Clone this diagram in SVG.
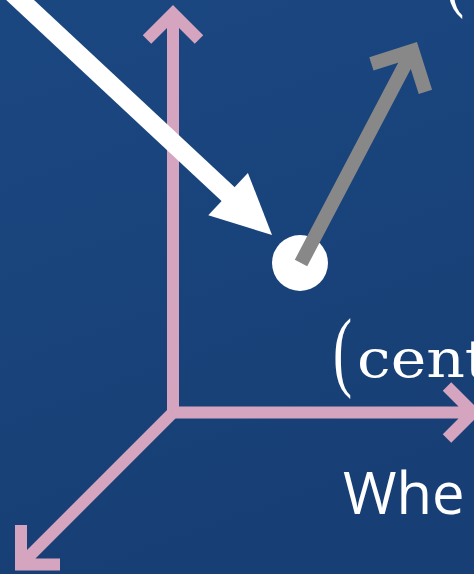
<svg xmlns="http://www.w3.org/2000/svg" width="474" height="574" viewBox="0 0 474 574">
  <defs>
    <linearGradient id="bg" x1="0" y1="0" x2="0.3" y2="1">
      <stop offset="0" stop-color="#1b4781"/>
      <stop offset="1" stop-color="#173f75"/>
    </linearGradient>
    <style>
      .axis { fill: none; stroke: #d5a5bf; stroke-width: 12; stroke-linejoin: miter; stroke-miterlimit: 10; stroke-linecap: butt; }
      .vel { fill: none; stroke: #888888; stroke-width: 14; stroke-linejoin: miter; stroke-miterlimit: 10; stroke-linecap: butt; }
      .force { fill: none; stroke: #ffffff; stroke-width: 19; stroke-linecap: butt; }
      .head { fill: #ffffff; stroke: none; }
      .paren { font-family: "Liberation Serif", "DejaVu Serif", serif; font-size: 88px; fill: #ffffff; }
      .math { font-family: "DejaVu Serif", "Liberation Serif", serif; fill: #ffffff; }
      .label { font-family: "Open Sans", "Noto Sans", sans-serif; fill: #ffffff; }
    </style>
  </defs>
  <rect x="0" y="0" width="474" height="574" fill="url(#bg)"/>
  <g id="connectors">
    <path id="axis-y" class="axis" d="M173,412.5 V13.5 M147,39.5 L173,13.5 L199,39.5"/>
    <path id="axis-x" class="axis" d="M173,412.5 H473 M447,386.5 L473,412.5 L447,438.5"/>
    <path id="axis-z" class="axis" d="M173,412.5 L21,564.5 M21,525 L21,564.5 L60,564.5"/>
    <g id="force-arrow">
      <path class="force" d="M-20.4,-37.8 L229.6,195.5"/>
      <polygon class="head" points="272,235 208.3,215.3 247.9,172.9"/>
    </g>
  </g>
  <g id="node-point">
    <circle cx="300" cy="263" r="28" fill="#ffffff"/>
  </g>
  <g id="velocity-arrow">
    <path class="vel" d="M301,263 L412.4,50.8 M371.4,63.8 L412.4,50.8 L425.4,91.8"/>
  </g>
  <g id="label-top">
    <text class="paren" transform="translate(445,-0.5) scale(0.65,1)" x="0" y="0">(</text>
  </g>
  <g id="label-center">
    <text class="paren" transform="translate(333,379.5) scale(0.65,1)" x="0" y="0">(</text>
    <text class="math" transform="translate(357,377) scale(1.155,1)" x="0" y="0" font-size="52">cent</text>
  </g>
  <g id="label-where">
    <text class="label" x="343" y="514" font-size="58">Whe</text>
  </g>
</svg>
